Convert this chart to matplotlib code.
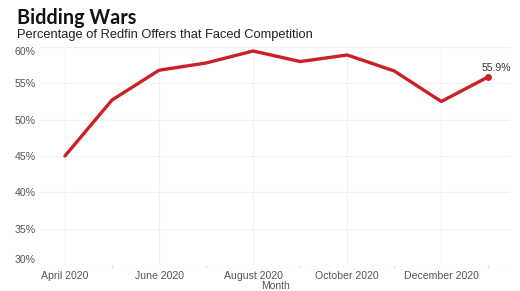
import numpy as np
import matplotlib
matplotlib.use("Agg")
import matplotlib.pyplot as plt

months = ["April 2020", "May 2020", "June 2020", "July 2020", "August 2020",
          "September 2020", "October 2020", "November 2020", "December 2020",
          "January 2021"]
pct = [45.0, 52.7, 56.8, 57.8, 59.45, 58.0, 58.9, 56.7, 52.5, 55.9]
y_ticks = [30, 35, 40, 45, 50, 55, 60]

plt.rcParams["font.family"] = ["Liberation Sans", "DejaVu Sans"]

fig = plt.figure(figsize=(5.2, 2.91), dpi=100)
ax = fig.add_axes([40 / 520, 26 / 291, 470 / 520, 218 / 291])

x = np.arange(len(months))
red = "#cc2027"
ax.plot(x, pct, color=red, linewidth=2.4, solid_capstyle="round", zorder=3)
ax.scatter([x[-1]], [pct[-1]], s=16, color=red, zorder=4)
ax.annotate(f"{pct[-1]:.1f}%", (x[-1], pct[-1]), xytext=(6, 3),
            textcoords="offset points", ha="center", va="bottom",
            fontsize=7.5, color="#333333")

ax.set_xlim(-0.53, len(months) - 1 + 0.46)
ax.set_ylim(30, 60)
ax.set_xticks(x[::2])
ax.set_xticklabels(months[::2], fontsize=7.6, color="#555555")
ax.set_xticks(x[1::2], minor=True)
ax.set_yticks(y_ticks)
ax.set_yticklabels([f"{v}%" for v in y_ticks], fontsize=7.6, color="#555555")
labels = ax.get_yticklabels()
labels[0].set_va("bottom")
labels[-1].set_va("top")

ax.tick_params(axis="y", length=0, pad=3)
ax.tick_params(axis="x", which="major", length=0, pad=4)
ax.tick_params(axis="x", which="minor", length=2, width=0.8, color="#e0e0e0")
ax.grid(True, which="major", color="#f2f2f2", linewidth=0.8)
ax.set_axisbelow(True)
for s in ax.spines.values():
    s.set_visible(False)

ax.set_xlabel("Month", fontsize=7.5, color="#555555", labelpad=0)

fig.text(17 / 520, 1 - 24 / 291, "Bidding Wars", fontsize=14.2,
         fontweight="bold", family="Lato", color="#111111", va="baseline")
fig.text(17 / 520, 1 - 38 / 291, "Percentage of Redfin Offers that Faced Competition",
         fontsize=9.3, color="#222222", va="baseline")

fig.savefig("out.png", dpi=100, facecolor="white")
